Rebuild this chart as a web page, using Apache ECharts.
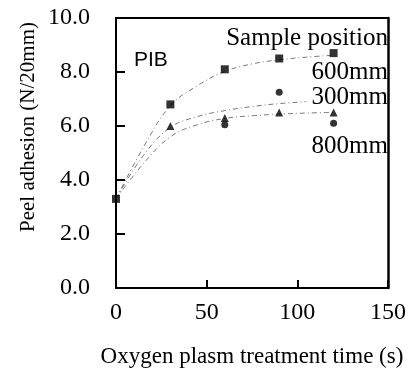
<!DOCTYPE html>
<html><head><meta charset="utf-8">
<script src="https://cdn.jsdelivr.net/npm/echarts@6/dist/echarts.min.js"></script>
<style>html,body{margin:0;padding:0;background:#fff}#c{width:414px;height:383px}</style>
</head><body><div id="c"></div>
<script>
// measured points
const sq600X = [0, 30, 60, 90, 120];
const sq600Y = [3.3, 6.8, 8.1, 8.5, 8.7];
const ci300X = [60, 90, 120];
const ci300Y = [6.05, 7.25, 6.1];
const tr800X = [30, 60, 90, 120];
const tr800Y = [6.0, 6.3, 6.5, 6.5];
// fitted trend curves
const fitX = [0, 15, 30, 45, 60, 75, 90, 105, 120];
const fit600 = [3.3, 5.2, 6.75, 7.5, 8.02, 8.3, 8.45, 8.55, 8.62];
const fit300 = [3.3, 4.9, 5.95, 6.35, 6.57, 6.72, 6.83, 6.9, null];
const fit800 = [3.3, 4.6, 5.6, 6.05, 6.28, 6.38, 6.44, 6.48, 6.5];
const yTicks = [0, 2, 4, 6, 8, 10];
const xTicks = [0, 50, 100, 150];
const labels = {title: 'Sample position', a: '600mm', b: '300mm', c: '800mm', tag: 'PIB'};
const xName = 'Oxygen plasm treatment time (s)';
const yName = 'Peel adhesion (N/20mm)';

const pair = (xs, ys) => xs.map((x, i) => [x, ys[i]]);
const SERIF = '"Liberation Serif", "DejaVu Serif", serif';
const SANS = '"Liberation Sans", Arial, sans-serif';

const chart = echarts.init(document.getElementById('c'), null, {renderer: 'canvas'});
const lineBase = (data) => ({
  type: 'line', data: pair(fitX, data), showSymbol: false, symbol: 'none', smooth: 0.4,
  connectNulls: false, z: 1, silent: true,
  lineStyle: {color: '#7a7a7a', width: 1, type: [5, 3, 1, 3]}
});
const txt = (text, x, y, font, align) => ({type: 'text', x: x, y: y,
  style: {text: text, font: font, fill: '#000', align: align, verticalAlign: 'middle',
    textAlign: align, textVerticalAlign: 'middle'}});
chart.setOption({
  animation: false,
  backgroundColor: '#fff',
  grid: {left: 116, right: 26, top: 18, bottom: 95, containLabel: false},
  xAxis: [{
    type: 'value', min: xTicks[0], max: xTicks[xTicks.length - 1], interval: 50,
    name: xName, nameLocation: 'middle', nameGap: 57,
    nameTextStyle: {fontFamily: SERIF, fontSize: 23, color: '#000'},
    axisLine: {show: true, onZero: false, lineStyle: {color: '#000', width: 2}},
    axisTick: {show: true, inside: true, length: 8, lineStyle: {color: '#000', width: 2}},
    axisLabel: {fontFamily: SERIF, fontSize: 24, color: '#000', margin: 13},
    splitLine: {show: false}
  }, {
    type: 'value', position: 'top', min: 0, max: 150,
    axisLine: {show: true, onZero: false, lineStyle: {color: '#000', width: 2}},
    axisTick: {show: false}, axisLabel: {show: false}, splitLine: {show: false}
  }],
  yAxis: [{
    type: 'value', min: yTicks[0], max: yTicks[yTicks.length - 1], interval: 2,
    axisLine: {show: true, onZero: false, lineStyle: {color: '#000', width: 2}},
    axisTick: {show: true, inside: true, length: 9, lineStyle: {color: '#000', width: 2}},
    axisLabel: {fontFamily: SERIF, fontSize: 24, color: '#000', margin: 26,
      formatter: v => v.toFixed(1)},
    splitLine: {show: false}
  }, {
    type: 'value', position: 'right', min: 0, max: 10,
    axisLine: {show: true, onZero: false, lineStyle: {color: '#000', width: 2.5}},
    axisTick: {show: false}, axisLabel: {show: false}, splitLine: {show: false}
  }],
  series: [
    lineBase(fit600), lineBase(fit300), lineBase(fit800),
    {type: 'scatter', data: pair(sq600X, sq600Y), symbol: 'rect', symbolSize: 8,
      itemStyle: {color: '#000'}, z: 3, clip: false},
    {type: 'scatter', data: pair(ci300X, ci300Y), symbol: 'circle', symbolSize: 7,
      itemStyle: {color: '#000'}, z: 3},
    {type: 'scatter', data: pair(tr800X, tr800Y), symbol: 'triangle', symbolSize: 8,
      itemStyle: {color: '#000'}, z: 3}
  ],
  graphic: [
    Object.assign(txt(yName, 28, 127, '21px ' + SERIF, 'center'), {rotation: Math.PI / 2}),
    txt(labels.tag, 134, 60, '21px ' + SANS, 'left'),
    txt(labels.title, 388, 38, '25px ' + SERIF, 'right'),
    txt(labels.a, 388, 72, '25px ' + SERIF, 'right'),
    txt(labels.b, 388, 97, '25px ' + SERIF, 'right'),
    txt(labels.c, 388, 146, '25px ' + SERIF, 'right')
  ]
});
</script></body></html>
